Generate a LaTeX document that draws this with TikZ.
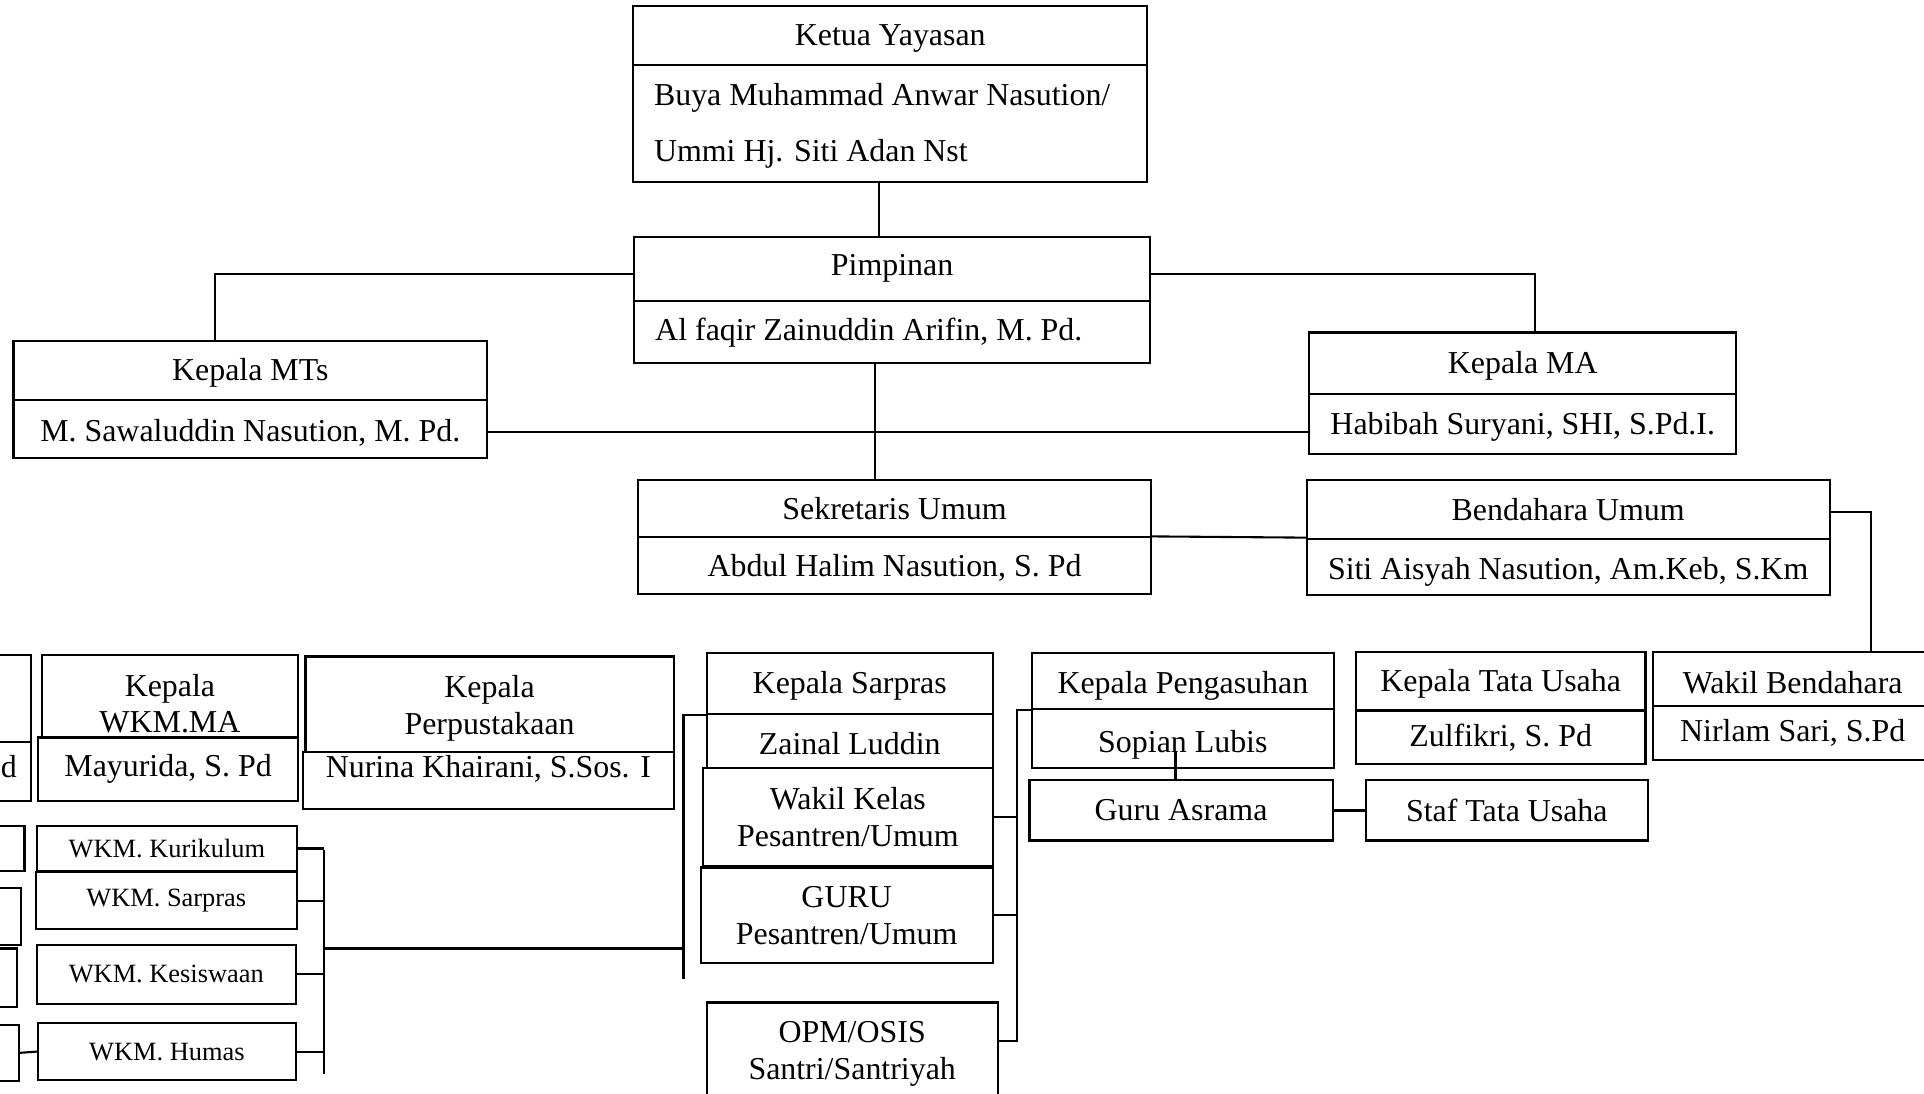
\documentclass[tikz,border=0pt]{standalone}
\usepackage{fontspec}
\setmainfont{Liberation Serif}
\newcommand\sth[1]{\rule{0pt}{#1pt}}
\begin{document}
\begin{tikzpicture}[x=1pt,y=-1pt,
  bx/.style={draw, line width=1.7pt, inner sep=0pt, font=\fontsize{26}{30}\selectfont, align=center},
  sm/.style={font=\fontsize{21.5}{26}\selectfont},
  ln/.style={line width=1.7pt}]
\useasboundingbox (0,0) rectangle (1568,891);
\clip (0,0) rectangle (1568,891);

% top
\node[bx,minimum width=419pt,minimum height=48pt] (ketuaH) at (725.5,29) {\sth{22}Ketua Yayasan};
\node[bx,minimum width=419pt,minimum height=95pt] (ketuaN) at (725.5,100.5) {\sth{22}\makebox[385pt][l]{Buya Muhammad Anwar Nasution/}\\[15pt]\makebox[385pt][l]{Ummi Hj. Siti Adan Nst}};
\node[bx,minimum width=420pt,minimum height=52pt] (pimH) at (727,219) {Pimpinan};
\node[bx,minimum width=420pt,minimum height=51pt] (pimN) at (727,270.5) {\sth{20}\makebox[386pt][l]{Al faqir Zainuddin Arifin, M. Pd.}};

\node[bx,minimum width=386pt,minimum height=48pt] (mtsH) at (204,302) {\sth{22}Kepala MTs};
\node[bx,minimum width=386pt,minimum height=47pt] (mtsN) at (204,349.5) {\sth{24}M. Sawaluddin Nasution, M. Pd.};
\node[bx,minimum width=348pt,minimum height=50pt] (maH) at (1241,296) {\sth{22}Kepala MA};
\node[bx,minimum width=348pt,minimum height=49pt] (maN) at (1241,345.5) {\sth{22}Habibah Suryani, SHI, S.Pd.I.};

\node[bx,minimum width=418pt,minimum height=47pt] (sekH) at (729,414.5) {Sekretaris Umum};
\node[bx,minimum width=418pt,minimum height=46pt] (sekN) at (729,461) {\sth{22}Abdul Halim Nasution, S. Pd};
\node[bx,minimum width=426pt,minimum height=48pt] (benH) at (1278,415) {Bendahara Umum};
\node[bx,minimum width=426pt,minimum height=46pt] (benN) at (1278,462) {\sth{26}Siti Aisyah Nasution, Am.Keb, S.Km};

% third row
\node[bx,minimum width=228pt,minimum height=44pt] (wbH) at (1461,553) {\sth{24}Wakil Bendahara};
\node[bx,minimum width=228pt,minimum height=44pt] (wbN) at (1461,597) {Nirlam Sari, S.Pd};
\node[bx,minimum width=236pt,minimum height=48pt] (ktuH) at (1223,555) {\sth{22}Kepala Tata Usaha};
\node[bx,minimum width=236pt,minimum height=44pt] (ktuN) at (1223,601) {Zulfikri, S. Pd};
\node[bx,minimum width=246pt,minimum height=46pt] (kpH) at (964,555) {\sth{26}Kepala Pengasuhan};
\node[bx,minimum width=246pt,minimum height=48pt] (kpN) at (964,602) {\sth{28}Sopian Lubis};
\node[bx,minimum width=247pt,minimum height=49pt] (guruAsrama) at (962.5,660.5) {Guru Asrama};
\node[bx,minimum width=230pt,minimum height=49pt] (staf) at (1228,660.5) {Staf Tata Usaha};

\node[bx,minimum width=233pt,minimum height=50pt] (ksH) at (692.5,557) {\sth{22}Kepala Sarpras};
\node[bx,minimum width=233pt,minimum height=44pt] (ksN) at (692.5,604) {\sth{22}Zainal Luddin};
\node[bx,minimum width=236pt,minimum height=80pt] (wakilKelas) at (691,666) {Wakil Kelas\\Pesantren/Umum};
\node[bx,minimum width=238pt,minimum height=78pt] (guru) at (690,746) {GURU\\Pesantren/Umum};
\node[bx,minimum width=237pt,minimum height=84pt] (opm) at (694.5,859) {OPM/OSIS\\Santri/Santriyah};

\node[bx,minimum width=300pt,minimum height=78pt] (perH) at (399,574) {\sth{25}Kepala\\Perpustakaan};
\node[bx,minimum width=302pt,minimum height=46pt,text height=18pt,text depth=22pt] (perN) at (398,636) {Nurina Khairani, S.Sos. I};
\node[bx,minimum width=209pt,minimum height=67pt] (wkmH) at (138.5,567.5) {\sth{30}Kepala\\WKM.MA};
\node[bx,minimum width=212pt,minimum height=52pt] (wkmN) at (137,627) {Mayurida, S. Pd};

% cut-off column on the left
\node[bx,minimum width=125pt,minimum height=71pt] (cutH) at (-37.5,569.5) {};
\node[bx,minimum width=125pt,minimum height=48pt] (cutN) at (-37.5,629) {};
\node[anchor=west,inner sep=0pt,font=\fontsize{26}{30}\selectfont] (cutTxt) at (0.5,625) {d};
\node[bx,minimum width=170pt,minimum height=37pt] (l1) at (-65,691.5) {};
\node[bx,minimum width=167pt,minimum height=46pt] (l2) at (-66.5,747) {};
\node[bx,minimum width=164pt,minimum height=48pt] (l3) at (-68,797) {};
\node[bx,minimum width=165.5pt,minimum height=46pt] (l4) at (-67.25,858) {};

\node[bx,sm,minimum width=212pt,minimum height=37pt] (kur) at (136,691.5) {WKM. Kurikulum};
\node[bx,sm,minimum width=213pt,minimum height=46pt] (sar) at (135.5,734) {WKM. Sarpras};
\node[bx,sm,minimum width=211pt,minimum height=48pt] (kes) at (135.5,794) {WKM. Kesiswaan};
\node[bx,sm,minimum width=210pt,minimum height=46pt] (hum) at (136,857) {WKM. Humas};

% helper coordinates
\coordinate (vK) at (716,0);
\coordinate (vP) at (713,0);
\coordinate (vMT) at (175,0);
\coordinate (vMA) at (1251,0);
\coordinate (vWB) at (1525,0);
\coordinate (vGA) at (958,0);
\coordinate (hP) at (0,223);
\coordinate (hMT) at (0,352);
\coordinate (hB) at (0,417);
\coordinate (hGA) at (0,612);
\coordinate (busTop) at (264,693);
\coordinate (busBot) at (264,875);
\coordinate (jL) at (264,773);
\coordinate (jR) at (557,773);
\coordinate (sBot) at (557,798);
\coordinate (rBot) at (829,848);

% connectors
\draw[ln] (ketuaN.south -| vK) -- (pimH.north -| vK);
\draw[ln] (pimH.west |- hP) -| (mtsH.north -| vMT);
\draw[ln] (pimH.east |- hP) -| (maH.north -| vMA);
\draw[ln] (pimN.south -| vP) -- (sekH.north -| vP);
\draw[ln] (mtsN.east |- hMT) -- (maN.west |- hMT);
\draw[ln] (sekN.north east) -- (benN.north west);
\draw[ln] (benH.east |- hB) -| (wbH.north -| vWB);
\draw[ln] (hGA -| vGA) -- (guruAsrama.north -| vGA);
\draw[ln] (guruAsrama.east) -- (staf.west);
\draw[ln] (ksH.south west) -| (sBot);
\draw[ln] (jL) -- (jR);
\draw[ln] (busTop) -- (busBot);
\draw[ln] (kur.east) -- (kur.east -| busTop);
\draw[ln] (sar.east) -- (sar.east -| busTop);
\draw[ln] (kes.east) -- (kes.east -| busTop);
\draw[ln] (hum.east) -- (hum.east -| busTop);
\draw[ln] (l4.east) -- (hum.west);
\draw[ln] (kpH.south west) -| (rBot) -- (opm.east |- rBot);
\draw[ln] (wakilKelas.east) -- (wakilKelas.east -| rBot);
\draw[ln] (guru.east) -- (guru.east -| rBot);
\end{tikzpicture}
\end{document}
